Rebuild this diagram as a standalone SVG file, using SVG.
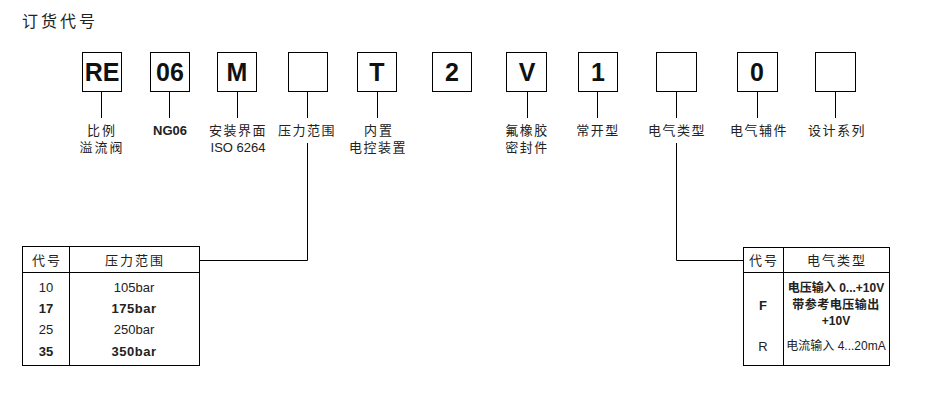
<svg xmlns="http://www.w3.org/2000/svg" width="945" height="394" viewBox="0 0 945 394">
<style>
text{font-family:"Liberation Sans","Noto Sans CJK SC",Arial,sans-serif;fill:#222}
.cn{font-size:13px;text-anchor:middle}
.ls{letter-spacing:2px}
.box{fill:#fff;stroke:#000;stroke-width:1}
.code{font-size:25px;font-weight:bold;text-anchor:middle;fill:#111}
.ln{stroke:#000;stroke-width:1;fill:none}
.b{font-weight:bold}
.t{font-size:13px;text-anchor:middle}
.s{font-size:12px;text-anchor:middle}
</style>
<rect width="945" height="394" fill="#fff"/>
<text x="22" y="27" style="font-size:16px;letter-spacing:3px">订货代号</text>

<g id="n-RE"><rect class="box" x="82.5" y="52.5" width="39" height="39"/><text class="code" x="102" y="81">RE</text></g>
<g id="n-06"><rect class="box" x="150.5" y="52.5" width="39" height="39"/><text class="code" x="170" y="81">06</text></g>
<g id="n-M"><rect class="box" x="217.5" y="52.5" width="39" height="39"/><text class="code" x="237" y="81">M</text></g>
<g id="n-P"><rect class="box" x="288.5" y="52.5" width="39" height="39"/></g>
<g id="n-T"><rect class="box" x="357.5" y="52.5" width="39" height="39"/><text class="code" x="377" y="81">T</text></g>
<g id="n-2"><rect class="box" x="432.5" y="52.5" width="39" height="39"/><text class="code" x="452" y="81">2</text></g>
<g id="n-V"><rect class="box" x="506.5" y="52.5" width="40" height="39"/><text class="code" x="527" y="81">V</text></g>
<g id="n-1"><rect class="box" x="578.5" y="52.5" width="39" height="39"/><text class="code" x="598" y="81">1</text></g>
<g id="n-E"><rect class="box" x="656.5" y="52.5" width="40" height="39"/></g>
<g id="n-0"><rect class="box" x="737.5" y="52.5" width="40" height="39"/><text class="code" x="757" y="81">0</text></g>
<g id="n-S"><rect class="box" x="815.5" y="52.5" width="40" height="39"/></g>

<g id="connectors">
<path class="ln" d="M101.5 91.5V118M169.5 91.5V118M237.5 91.5V118M307.5 91.5V118M377.5 91.5V118M527.5 91.5V118M597.5 91.5V118M676.5 91.5V118M757.5 91.5V118M835.5 91.5V118"/>
<path class="ln" d="M307.5 143V260.5H200"/>
<path class="ln" d="M676.5 143V260.5H743"/>
</g>

<g id="labels">
<text class="cn ls" x="102" y="135">比例</text>
<text class="cn ls" x="102" y="152">溢流阀</text>
<text class="cn b" x="170" y="135">NG06</text>
<text class="cn" x="238" y="135" style="letter-spacing:1.5px">安装界面</text>
<text class="cn" x="238" y="152">ISO 6264</text>
<text class="cn" x="307" y="135" style="letter-spacing:1.5px">压力范围</text>
<text class="cn ls" x="379" y="135">内置</text>
<text class="cn" x="378" y="152" style="letter-spacing:1.5px">电控装置</text>
<text class="cn" x="527" y="135" style="letter-spacing:1.5px">氟橡胶</text>
<text class="cn" x="527" y="152" style="letter-spacing:1.5px">密封件</text>
<text class="cn" x="598" y="135" style="letter-spacing:1.5px">常开型</text>
<text class="cn" x="677" y="135" style="letter-spacing:1.5px">电气类型</text>
<text class="cn" x="759" y="135" style="letter-spacing:1.5px">电气辅件</text>
<text class="cn" x="837" y="135" style="letter-spacing:1.5px">设计系列</text>
</g>

<g id="table-pressure">
<rect class="ln" x="22.5" y="246.5" width="177" height="119"/>
<path class="ln" d="M22.5 272.5H199.5M69.5 246.5V365.5"/>
<text class="t ls" x="47" y="265">代号</text>
<text class="t ls" x="135" y="265">压力范围</text>
<text class="t" x="46" y="292">10</text><text class="t" x="134" y="292">105bar</text>
<text class="t b" x="46" y="313">17</text><text class="t b" x="134" y="313" style="letter-spacing:0.5px">175bar</text>
<text class="t" x="46" y="334">25</text><text class="t" x="134" y="334">250bar</text>
<text class="t b" x="46" y="356">35</text><text class="t b" x="134" y="356" style="letter-spacing:0.5px">350bar</text>
</g>

<g id="table-electric">
<rect class="ln" x="743.5" y="247.5" width="146" height="118"/>
<path class="ln" d="M743.5 272.5H889.5M783.5 247.5V365.5"/>
<text class="t ls" x="764" y="265">代号</text>
<text class="t ls" x="837" y="265">电气类型</text>
<text class="t b" x="763" y="310">F</text>
<text class="s b" x="836" y="292">电压输入 0...+10V</text>
<text class="s b" x="836" y="309" style="letter-spacing:0.5px">带参考电压输出</text>
<text class="s b" x="836" y="325">+10V</text>
<text class="t" x="763" y="351">R</text>
<text class="s" x="836" y="350">电流输入 4...20mA</text>
</g>
</svg>
